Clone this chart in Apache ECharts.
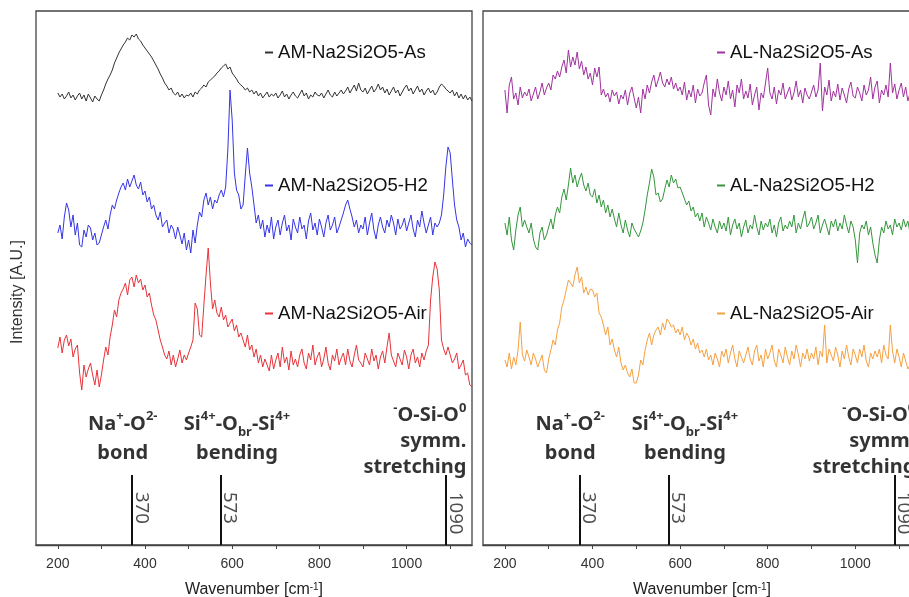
<!DOCTYPE html>
<html>
<head>
<meta charset="utf-8">
<script src="https://cdn.jsdelivr.net/npm/echarts@6/dist/echarts.min.js"></script>
<style>
html,body{margin:0;padding:0;background:#fff;}
#main{width:909px;height:597px;}
</style>
</head>
<body>
<div id="main"></div>
<script>
// wavenumber grid (cm-1)
var wavenumbers = [200,205,210,215,220,225,230,235,240,245,250,255,260,265,270,275,280,285,290,295,
300,305,310,315,320,325,330,335,340,345,350,355,360,365,370,375,380,385,390,395,
400,405,410,415,420,425,430,435,440,445,450,455,460,465,470,475,480,485,490,495,
500,505,510,515,520,525,530,535,540,545,550,555,560,565,570,575,580,585,590,595,
600,605,610,615,620,625,630,635,640,645,650,655,660,665,670,675,680,685,690,695,
700,705,710,715,720,725,730,735,740,745,750,755,760,765,770,775,780,785,790,795,
800,805,810,815,820,825,830,835,840,845,850,855,860,865,870,875,880,885,890,895,
900,905,910,915,920,925,930,935,940,945,950,955,960,965,970,975,980,985,990,995,
1000,1005,1010,1015,1020,1025,1030,1035,1040,1045,1050,1055,1060,1065,1070,1075,1080,1085,1090,1095,
1100,1105,1110,1115,1120,1125,1130,1135,1140,1145,1150];

// stacked intensities (arbitrary units, offset)
var amAs = [452,448,451,446,449,453,447,450,445,449, 452,446,450,444,451,447,443,449,446,444,
450,455,461,466,470,475,482,487,492,496, 500,503,507,505,510,508,511,506,504,500,
497,494,491,488,484,480,476,471,467,462, 459,455,457,452,450,453,448,451,447,450,
449,452,448,453,451,455,457,460,458,463, 465,467,469,472,474,477,479,481,476,478,
472,469,466,462,460,458,455,457,453,455, 451,454,449,452,447,450,453,448,451,449,
452,447,450,454,448,451,446,450,453,449, 447,451,455,449,452,446,450,448,453,450,
449,452,447,451,455,450,448,453,449,452, 455,451,454,458,452,456,460,454,462,455,
453,457,451,455,459,453,456,461,455,458, 452,456,450,454,458,452,455,449,453,457,
460,454,457,451,455,459,453,456,450,454, 457,452,455,450,453,458,461,459,456,454,
452,455,449,453,447,451,446,450,445,448, 444];

var amH2 = [312,320,306,328,342,335,318,330,310,322, 300,298,315,308,320,317,305,312,300,302,
310,318,325,316,330,340,336,345,352,358, 362,355,366,358,364,370,360,356,363,350,
354,343,348,336,340,330,325,333,318,322, 325,312,320,316,306,318,310,301,312,295,
305,292,315,302,320,333,328,345,352,340, 348,336,345,342,350,355,348,358,395,455,
425,372,355,350,336,340,370,397,372,358, 340,322,330,316,325,308,320,312,328,306,
318,325,310,322,330,314,320,305,326,318, 312,328,316,320,306,324,332,315,322,310,
326,318,308,322,330,315,320,328,312,318, 325,332,340,345,336,328,318,325,312,320,
316,328,310,322,332,315,306,320,328,318, 312,325,318,330,322,310,326,316,320,327,
314,322,330,316,308,325,318,334,322,312, 320,328,310,322,318,322,330,350,378,398,
392,365,340,325,318,305,312,298,306,302, 300];

var amAir = [197,208,192,205,210,199,206,188,196,200, 172,155,180,168,176,182,170,160,175,158,
170,185,198,190,208,220,235,228,245,252, 256,262,250,265,268,258,270,262,266,255,
260,248,252,240,230,225,215,205,198,190, 186,194,180,190,178,186,195,182,190,185,
192,198,205,242,236,210,208,240,270,297, 262,236,245,232,228,238,225,230,218,222,
226,214,220,208,212,205,198,210,195,200, 188,196,182,190,178,186,180,174,190,176,
185,192,178,198,182,188,175,194,180,186, 178,190,196,182,176,192,185,200,180,188,
193,178,186,198,182,175,190,184,196,180, 187,192,180,196,184,178,190,200,185,182,
178,192,186,180,196,184,190,176,188,194, 182,198,212,190,184,178,192,186,180,195,
188,176,190,196,182,188,178,192,185,194, 200,245,268,283,276,255,205,196,190,198,
190,182,186,192,176,180,185,170,172,160, 158];

var alAs = [455,432,460,468,446,452,440,458,447,453, 449,456,444,451,458,446,453,462,450,457,
462,455,470,466,474,468,478,485,472,495, 478,488,480,493,476,484,470,478,466,472,
460,477,468,478,450,456,448,452,443,455, 449,453,441,450,446,455,440,452,458,447,
437,448,432,456,446,460,452,463,470,458, 465,473,462,458,466,460,468,456,462,454,
458,450,463,445,455,448,460,442,456,449, 452,462,470,440,430,456,448,466,452,444,
458,450,464,446,455,438,460,452,466,446, 454,447,461,440,450,458,435,452,447,462,
477,452,446,458,441,455,450,462,446,452, 458,445,452,464,448,455,442,457,450,446,
453,460,448,455,482,434,458,450,465,444, 454,448,461,445,457,450,442,456,463,449,
447,458,452,444,460,450,455,468,446,458, 464,442,455,450,460,448,482,452,461,446,
455,462,448,458,444,452,466,447,455,450, 452];

var alH2 = [322,310,328,305,295,315,330,338,318,325, 318,312,322,306,298,295,312,318,305,310,
318,326,316,330,338,332,348,356,345,360, 377,362,370,358,366,372,360,354,362,350,
348,356,342,350,338,345,332,340,328,336, 326,318,332,320,312,325,315,308,322,316,
312,308,314,322,335,350,362,376,368,350, 352,343,346,356,365,358,370,362,366,357,
358,352,346,340,344,334,338,328,332,324, 332,318,328,322,315,326,318,312,324,316,
322,314,328,310,320,326,316,322,308,318, 325,312,320,316,330,318,310,324,315,322,
318,326,312,320,308,322,328,314,320,316, 324,318,330,312,322,316,326,334,318,322,
328,316,322,330,312,320,326,318,310,324, 318,326,314,322,316,330,320,312,324,318,
305,282,312,320,316,324,310,318,302,290, 282,305,318,312,324,316,320,310,326,318,
322,315,326,318,324,312,320,328,316,322, 318];

var alAir = [185,178,192,176,188,180,195,223,190,184, 195,188,180,192,186,178,184,190,175,172,
186,195,205,200,215,222,238,245,255,265, 262,258,270,278,262,268,252,258,250,256,
255,248,252,232,228,220,210,218,200,206, 195,188,198,182,175,180,172,168,176,162,
162,170,185,180,195,205,212,200,210,215, 218,210,222,215,226,223,218,220,212,216,
210,218,205,212,208,200,206,196,202,192, 195,188,196,185,190,180,192,186,178,194,
188,196,182,192,200,186,178,194,188,182, 190,198,186,180,194,200,184,190,178,196,
186,192,200,184,178,196,190,182,198,188, 180,194,186,200,190,178,192,186,196,184,
192,186,198,180,194,188,220,182,196,190, 184,198,190,178,194,186,200,188,180,196,
190,182,196,188,200,184,178,192,186,194, 188,196,182,200,190,186,220,194,182,196,
188,178,192,184,176,180,172,168,175,166, 170];

var amNames = ['AM-Na2Si2O5-As','AM-Na2Si2O5-H2','AM-Na2Si2O5-Air'];
var alNames = ['AL-Na2Si2O5-As','AL-Na2Si2O5-H2','AL-Na2Si2O5-Air'];
var amColors = ['#333333','#3535e6','#e8333a'];
var alColors = ['#a0329e','#35963c','#f5a040'];

// reference bands
var bandPositions = [370, 573, 1090];
var bandLabels = ['370', '573', '1090'];

initChart();

function pairs(ys){
	var out = [];
	for(var i=0;i<wavenumbers.length;i++){
		out.push([wavenumbers[i], ys[i]]);
	}
	return out;
}

/**
 * 画图
 */
function initChart(){
	var myChart = echarts.init(document.getElementById('main'), null, {renderer:'canvas'});
	var font = 'Liberation Sans, Arial, sans-serif';
	var boldFont = 'Noto Sans, sans-serif';

	// right panel runs past the right edge, like the cropped original
	var grids = [
		{left:36, top:11, width:436, height:534, show:true, borderColor:'#444', borderWidth:1.3, outerBoundsMode:'none'},
		{left:483, top:11, width:438, height:534, show:true, borderColor:'#444', borderWidth:1.3, outerBoundsMode:'none'}
	];
	var xAxes = [], yAxes = [];
	for(var g=0; g<2; g++){
		xAxes.push({
			type:'value', gridIndex:g, min:150, max:1150,
			name:'Wavenumber [cm{sup|-1}]', nameLocation:'middle', nameGap:37,
			nameTextStyle:{fontFamily:font, fontSize:16, color:'#222',
				rich:{sup:{fontFamily:font, fontSize:10, color:'#222', verticalAlign:'top', lineHeight:14}}},
			axisLine:{show:true, lineStyle:{color:'#444', width:1.3}},
			axisTick:{show:true, length:4, inside:false, customValues:[200,300,400,500,600,700,800,900,1000,1100], lineStyle:{color:'#444'}},
			axisLabel:{customValues:[200,400,600,800,1000], margin:12, fontFamily:font, fontSize:14, color:'#333',
				formatter:function(v){ return String(v); }},
			splitLine:{show:false}
		});
		yAxes.push({type:'value', gridIndex:g, min:0, max:534, show:false});
	}

	var series = [], legends = [];
	var legendTops = [43, 176, 304];
	var amData = [amAs, amH2, amAir], alData = [alAs, alH2, alAir];
	for(var k=0;k<3;k++){
		series.push({name:amNames[k], type:'line', xAxisIndex:0, yAxisIndex:0, data:pairs(amData[k]),
			showSymbol:false, symbol:'none', lineStyle:{width:1, color:amColors[k]}, itemStyle:{color:amColors[k]}});
		series.push({name:alNames[k], type:'line', xAxisIndex:1, yAxisIndex:1, data:pairs(alData[k]),
			showSymbol:false, symbol:'none', lineStyle:{width:1, color:alColors[k]}, itemStyle:{color:alColors[k]}});
		legends.push({data:[amNames[k]], left:265, top:legendTops[k], padding:0, selectedMode:false,
			icon:'rect', itemWidth:8, itemHeight:2, textStyle:{fontFamily:font, fontSize:18.6, color:'#111'}});
		legends.push({data:[alNames[k]], left:717, top:legendTops[k], padding:0, selectedMode:false,
			icon:'rect', itemWidth:8, itemHeight:2, textStyle:{fontFamily:font, fontSize:18.6, color:'#111'}});
	}

	var rich = {
		b:{fontFamily:boldFont, fontWeight:'bold', fontSize:20, color:'#000', lineHeight:29},
		sup:{fontFamily:boldFont, fontWeight:'bold', fontSize:13, color:'#000', verticalAlign:'top', lineHeight:16},
		sub:{fontFamily:boldFont, fontWeight:'bold', fontSize:13, color:'#000', verticalAlign:'bottom', lineHeight:16},
		b3:{fontFamily:boldFont, fontWeight:'bold', fontSize:20, color:'#000', lineHeight:26},
		sup3:{fontFamily:boldFont, fontWeight:'bold', fontSize:13, color:'#000', verticalAlign:'top', lineHeight:14}
	};

	for(var p=0;p<2;p++){
		// band marker lines
		var segs = [];
		for(var j=0;j<bandPositions.length;j++){
			segs.push({coords:[[bandPositions[j],0],[bandPositions[j],70]]});
		}
		series.push({type:'lines', coordinateSystem:'cartesian2d', xAxisIndex:p, yAxisIndex:p,
			data:segs, lineStyle:{color:'#111', width:2, opacity:1}, silent:true});
		// band numbers
		var nums = [];
		for(var j=0;j<bandPositions.length;j++){
			nums.push({value:[bandPositions[j],53], label:{formatter:bandLabels[j]}});
		}
		series.push({type:'scatter', xAxisIndex:p, yAxisIndex:p, symbolSize:0, data:nums, silent:true,
			label:{show:true, position:'right', distance:9, rotate:-90, fontFamily:'Noto Sans, sans-serif', fontSize:18.5, color:'#222'}});
		// band names
		series.push({type:'scatter', xAxisIndex:p, yAxisIndex:p, symbolSize:0, silent:true, data:[
			{value:[349,106], label:{position:'inside', formatter:'{b|Na}{sup|+}{b|-O}{sup|2-}\n{b|bond}'}},
			{value:[611,106], label:{position:'inside', formatter:'{b|Si}{sup|4+}{b|-O}{sub|br}{b|-Si}{sup|4+}\n{b|bending}'}},
			{value:[1137,104], label:{position:'left', distance:0, align:'right', formatter:'{sup3|-}{b3|O-Si-O}{sup3|0}\n{b3|symm.}\n{b3|stretching}'}}
		], label:{show:true, rich:rich}});
	}

	var option = {
		animation:false,
		backgroundColor:'#fff',
		grid:grids,
		xAxis:xAxes,
		yAxis:yAxes,
		legend:legends,
		graphic:[{type:'text', left:10, top:240, rotation:Math.PI/2,
			style:{text:'Intensity [A.U.]', fontFamily:font, fontSize:16, fill:'#333'}}],
		series:series
	};
	myChart.setOption(option);
}
</script>
</body>
</html>
